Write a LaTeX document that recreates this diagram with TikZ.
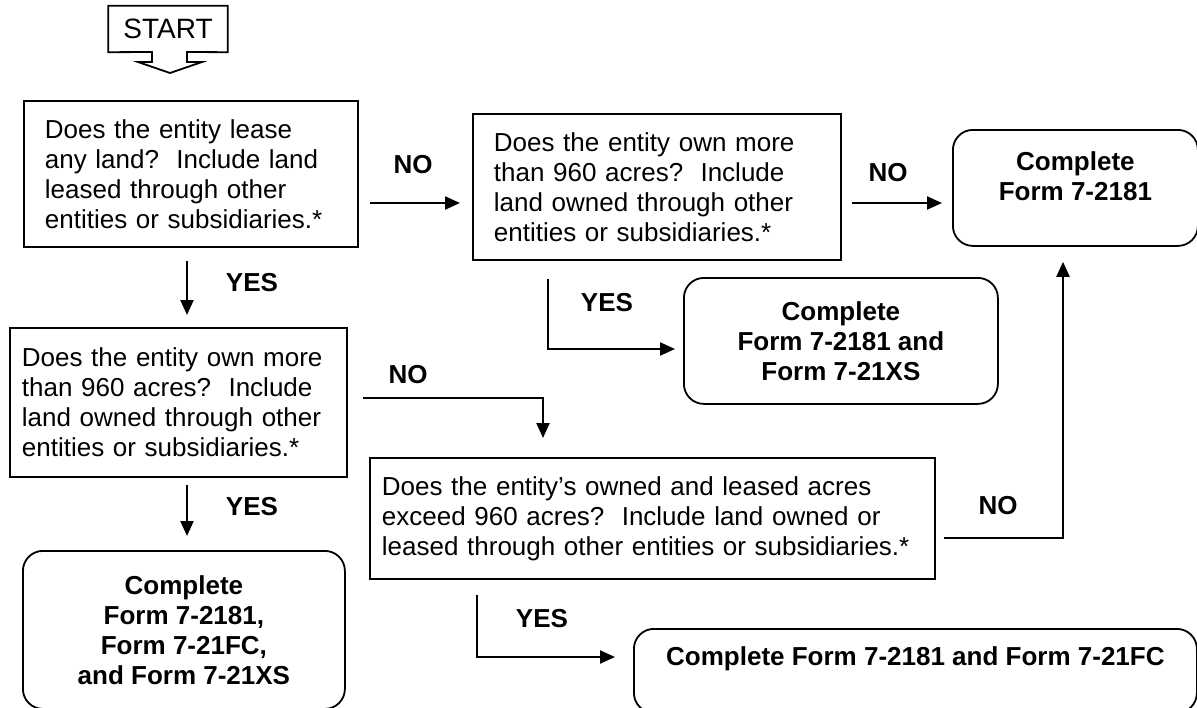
\documentclass[tikz,border=0pt]{standalone}
\usepackage{fontspec}
\setmainfont{Liberation Sans}
\usetikzlibrary{arrows.meta}
\newcommand{\flowfont}{\fontsize{26}{30}\selectfont}

\begin{document}
\begin{tikzpicture}[x = 1pt, y = -1pt, >= {Triangle[length = 15pt, width = 13pt]},
    question/.style = {draw = black, line width = 1.8pt, align = left, anchor = north west, font = \flowfont, inner ysep = 0pt},
    result/.style = {draw = black, line width = 1.8pt, rounded corners = 20pt, align = center, anchor = north west, font = \flowfont\bfseries},
    answer/.style = {font = \flowfont\bfseries},
    flow/.style = {line width = 2.2pt, ->}]

    \useasboundingbox (0, 0) rectangle (1197, 707);

    \node [minimum width = 119pt, minimum height = 46pt, inner sep = 0pt, font = \fontsize{28}{30}\selectfont] (start) at (168, 29) {START};
    \draw [line width = 1.8pt] (start.south west) -- (start.north west) -- (start.north east) -- (start.south east) -- (187, 52) -- (187, 62) -- (202, 62) -- (170, 73) -- (138, 62) -- (152, 62) -- (152, 52) -- cycle;

    \node [question, text width = 292pt, inner xsep = 21pt, minimum height = 146pt] (lease) at (23, 100) {Does the entity lease\\any land?\ \ Include land\\leased through other\\entities or subsidiaries.*};
    \node [question, text width = 326pt, inner xsep = 21pt, minimum height = 146pt] (ownfirst) at (472, 113) {Does the entity own more\\than 960 acres?\ \ Include\\land owned through other\\entities or subsidiaries.*};
    \node [question, text width = 313pt, inner xsep = 12pt, minimum height = 149pt] (ownsecond) at (9, 327) {Does the entity own more\\than 960 acres?\ \ Include\\land owned through other\\entities or subsidiaries.*};
    \node [question, text width = 541pt, inner xsep = 12pt, minimum height = 121pt] (combined) at (369, 457) {Does the entity’s owned and leased acres\\exceed 960 acres?\ \ Include land owned or\\leased through other entities or subsidiaries.*};

    \node [result, minimum width = 245pt, minimum height = 116pt] (formbase) at (952, 129) {};
    \node [answer, align = center, yshift = 11.5pt] (formbasetext) at (formbase) {Complete\\Form 7-2181};
    \node [result, minimum width = 314pt, minimum height = 126pt] (formxs) at (683, 277) {Complete\\Form 7-2181 and\\Form 7-21XS};
    \node [result, minimum width = 322pt, minimum height = 158pt] (formall) at (22, 550) {Complete\\Form 7-2181,\\Form 7-21FC,\\and Form 7-21XS};
    \node [result, minimum width = 563pt, minimum height = 84pt] (formfc) at (633, 628) {};
    \node [answer, yshift = 12pt] (formfctext) at (formfc) {Complete Form 7-2181 and Form 7-21FC};

    \coordinate (rowtop) at (0, 203);
    \coordinate (colleft) at (187, 0);
    \coordinate (bendxs) at (548, 349);
    \coordinate (bendno) at (543, 398);
    \coordinate (bendup) at (1063, 538);
    \coordinate (bendfc) at (477, 657);

    \draw [flow, shorten <= 11pt, shorten >= 12pt] (lease.east |- rowtop) -- (ownfirst.west |- rowtop);
    \draw [flow, shorten <= 10pt, shorten >= 10pt] (ownfirst.east |- rowtop) -- (formbase.west |- rowtop);
    \draw [flow, shorten <= 13pt, shorten >= 12pt] (lease.south -| colleft) -- (ownsecond.north -| colleft);
    \draw [flow, shorten <= 7pt, shorten >= 14pt] (ownsecond.south -| colleft) -- (formall.north -| colleft);
    \draw [flow, shorten <= 18pt, shorten >= 8pt] (ownfirst.south -| bendxs) |- (formxs.west |- bendxs);
    \draw [flow, shorten <= 15pt, shorten >= 19pt] (ownsecond.east |- bendno) -| (combined.north -| bendno);
    \draw [flow, shorten <= 8pt, shorten >= 15pt] (combined.east |- bendup) -| (formbase.south -| bendup);
    \draw [flow, shorten <= 15pt, shorten >= 18pt] (combined.south -| bendfc) |- (formfc.west |- bendfc);

    \node [answer] (nolease) at (413, 165) {NO};
    \node [answer] (noown) at (888, 173) {NO};
    \node [answer] (yeslease) at (252, 283) {YES};
    \node [answer] (yesown) at (607, 303) {YES};
    \node [answer] (noownsecond) at (408, 375) {NO};
    \node [answer] (yesownsecond) at (252, 507) {YES};
    \node [answer] (nocombined) at (998, 506) {NO};
    \node [answer] (yescombined) at (542, 619) {YES};
\end{tikzpicture}
\end{document}
